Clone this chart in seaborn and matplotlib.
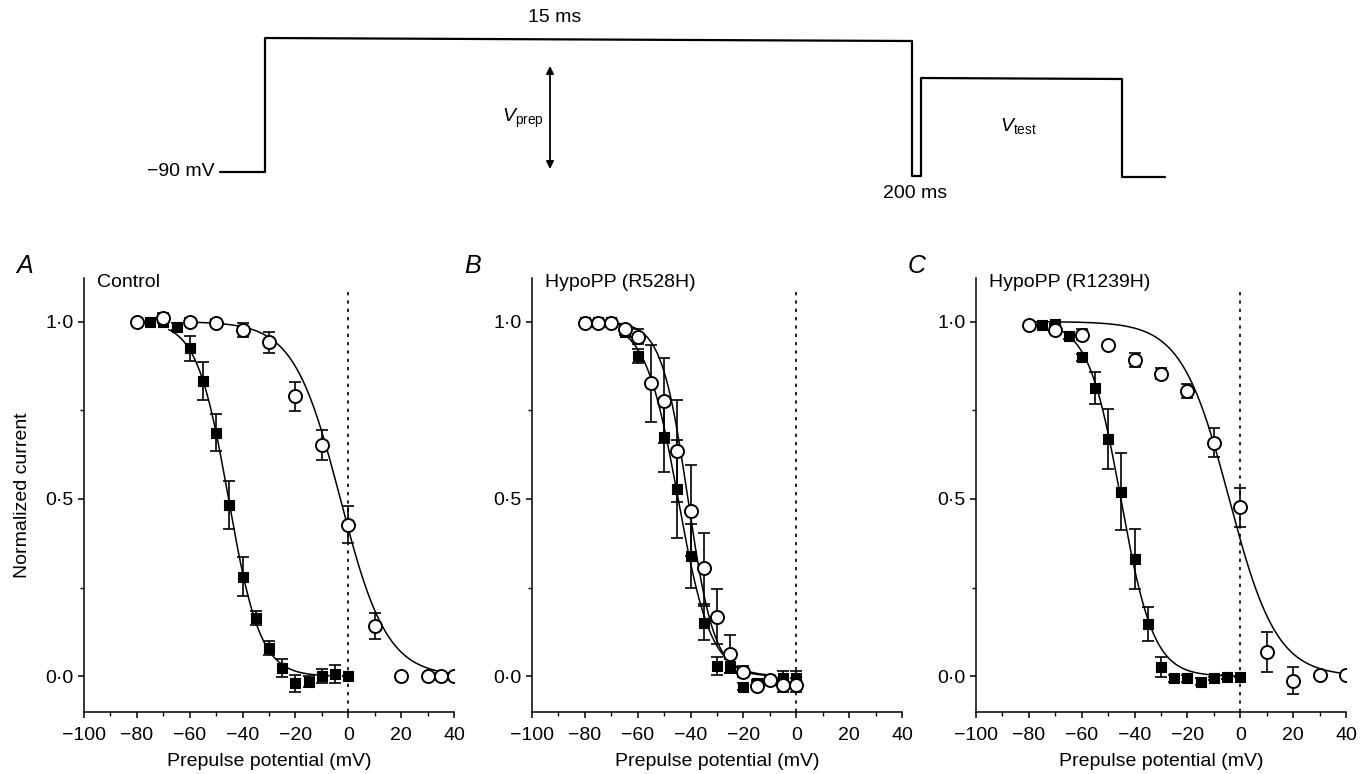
import numpy as np
import pandas as pd
import matplotlib
matplotlib.use("Agg")
import matplotlib.pyplot as plt
from matplotlib.ticker import FuncFormatter, MultipleLocator
import seaborn as sns

# ---------------- data ----------------
# Panel A: control
a_sq_v = [-75, -70, -65, -60, -55, -50, -45, -40, -35, -30, -25, -20, -15, -10, -5, 0]
a_sq_i = [1.0, 1.0, 0.985, 0.925, 0.833, 0.687, 0.483, 0.281, 0.164, 0.079, 0.024, -0.02, -0.015, 0.0, 0.006, 0.0]
a_sq_e = [0, 0, 0.01, 0.035, 0.053, 0.053, 0.068, 0.056, 0.02, 0.02, 0.025, 0.025, 0.015, 0.02, 0.025, 0.0]
a_ci_v = [-80, -70, -60, -50, -40, -30, -20, -10, 0, 10, 20, 30, 35, 40]
a_ci_i = [1.0, 1.01, 1.0, 0.997, 0.977, 0.942, 0.789, 0.652, 0.427, 0.142, 0.0, 0.0, 0.0, 0.0]
a_ci_e = [0, 0.015, 0.01, 0.01, 0.02, 0.03, 0.04, 0.042, 0.052, 0.037, 0.01, 0, 0, 0]

# Panel B: HypoPP R528H
b_sq_v = [-80, -75, -70, -65, -60, -50, -45, -40, -35, -30, -25, -20, -15, -10, -5, 0]
b_sq_i = [1.0, 1.0, 1.0, 0.972, 0.903, 0.676, 0.527, 0.339, 0.15, 0.029, 0.029, -0.029, -0.02, -0.01, -0.004, -0.004]
b_sq_e = [0, 0, 0, 0.01, 0.02, 0.099, 0.138, 0.09, 0.048, 0.025, 0.02, 0.01, 0.01, 0.01, 0.02, 0.02]
b_ci_v = [-80, -75, -70, -65, -60, -55, -50, -45, -40, -35, -30, -25, -20, -15, -10, -5, 0]
b_ci_i = [0.997, 0.995, 0.995, 0.98, 0.958, 0.826, 0.777, 0.636, 0.467, 0.305, 0.168, 0.063, 0.013, -0.027, -0.01, -0.025, -0.025]
b_ci_e = [0, 0, 0, 0.01, 0.02, 0.108, 0.12, 0.144, 0.129, 0.1, 0.077, 0.054, 0.015, 0.01, 0.01, 0.02, 0.02]

# Panel C: HypoPP R1239H
c_sq_v = [-75, -70, -65, -60, -55, -50, -45, -40, -35, -30, -25, -20, -15, -10, -5, 0]
c_sq_i = [0.99, 0.993, 0.96, 0.9, 0.812, 0.669, 0.521, 0.33, 0.148, 0.027, -0.006, -0.006, -0.015, -0.006, -0.002, -0.002]
c_sq_e = [0, 0, 0.01, 0.01, 0.045, 0.085, 0.108, 0.085, 0.048, 0.028, 0.01, 0.01, 0.01, 0.005, 0.005, 0]
c_ci_v = [-80, -70, -60, -50, -40, -30, -20, -10, 0, 10, 20, 30, 40]
c_ci_i = [0.99, 0.977, 0.963, 0.933, 0.892, 0.853, 0.805, 0.659, 0.476, 0.069, -0.012, 0.004, 0.004]
c_ci_e = [0, 0.01, 0.015, 0.01, 0.02, 0.015, 0.02, 0.04, 0.055, 0.057, 0.038, 0, 0]

# Boltzmann fits: (V1/2, slope k, v_start, v_end)
a_sq_fit = (-45.3, 6.0, -68, -3)
a_ci_fit = (-3.0, 8.8, -62, 40)
b_sq_fit = (-44.7, 6.2, -67, -8)
b_ci_fit = (-41.0, 5.0, -67, -8)
c_sq_fit = (-45.2, 6.2, -66, -2)
c_ci_fit = (-4.2, 9.0, -80, 40)

panel_letters = ["A", "B", "C"]
panel_titles = ["Control", "HypoPP (R528H)", "HypoPP (R1239H)"]
x_ticks = [-100, -80, -60, -40, -20, 0, 20, 40]
y_ticks = [0.0, 0.5, 1.0]

# pulse protocol (figure pixel coordinates of the schematic)
proto_t = [220, 265, 265, 912, 912, 921, 921, 1122, 1122, 1165]
proto_v = [172, 172, 38, 41, 176, 176, 78, 79, 177, 177]

# ---------------- style ----------------
sns.set_theme(style="ticks")
plt.rcParams["font.family"] = ["Liberation Sans", "DejaVu Sans"]
plt.rcParams.update({
    "mathtext.fontset": "custom",
    "mathtext.rm": "Liberation Sans",
    "mathtext.it": "Liberation Sans:italic",
    "text.color": "black",
    "axes.labelcolor": "black",
    "axes.linewidth": 1.1,
    "xtick.major.width": 1.1,
    "ytick.major.width": 1.1,
    "xtick.minor.width": 1.0,
    "ytick.minor.width": 1.0,
    "xtick.major.size": 4.5,
    "ytick.major.size": 4.5,
    "xtick.minor.size": 3,
    "ytick.minor.size": 3,
    "xtick.direction": "out",
    "ytick.direction": "out",
    "xtick.color": "black",
    "ytick.color": "black",
    "xtick.labelcolor": "black",
    "ytick.labelcolor": "black",
    "axes.edgecolor": "black",
})
FS = 14

fig = plt.figure(figsize=(13.67, 7.74), dpi=100)

# ---------------- protocol schematic ----------------
ax0 = fig.add_axes([0, 0, 1, 1], zorder=-1)
ax0.set_xlim(0, 1367)
ax0.set_ylim(774, 0)
ax0.axis("off")
ax0.plot(proto_t, proto_v, color="black", lw=1.6)
ax0.text(215, 172, "\u221290 mV", ha="right", va="center", fontsize=FS)
ax0.text(555, 18, "15 ms", ha="center", va="center", fontsize=FS)
ax0.text(915, 193, "200 ms", ha="center", va="center", fontsize=FS)
ax0.text(544, 118, r"$V_{\rm prep}$", ha="right", va="center", fontsize=FS)
ax0.text(1018, 126, r"$V_{\rm test}$", ha="center", va="center", fontsize=FS)
ax0.annotate("", xy=(550, 66), xytext=(550, 169),
             arrowprops=dict(arrowstyle="<|-|>", color="black", lw=1.3,
                             mutation_scale=11, shrinkA=0, shrinkB=0))

# ---------------- panels ----------------
panels = [
    (a_sq_v, a_sq_i, a_sq_e, a_ci_v, a_ci_i, a_ci_e, a_sq_fit, a_ci_fit),
    (b_sq_v, b_sq_i, b_sq_e, b_ci_v, b_ci_i, b_ci_e, b_sq_fit, b_ci_fit),
    (c_sq_v, c_sq_i, c_sq_e, c_ci_v, c_ci_i, c_ci_e, c_sq_fit, c_ci_fit),
]
lefts = [84, 532, 976]
W, H = 1367, 774
ax_w, top_px, bot_px = 370, 278, 712


def boltzmann(params):
    vh, k, v0, v1 = params
    v = np.linspace(v0, v1, 300)
    return v, 1.0 / (1.0 + np.exp((v - vh) / k))


dot_fmt = FuncFormatter(lambda val, pos: f"{val:.1f}".replace(".", "\u00b7"))

for i, (sv, si, se, cv, ci, ce, sfit, cfit) in enumerate(panels):
    ax = fig.add_axes([lefts[i] / W, 1 - bot_px / H, ax_w / W, (bot_px - top_px) / H])
    ax.set_facecolor("none")

    for fit in (sfit, cfit):
        fv, fi = boltzmann(fit)
        sns.lineplot(x=fv, y=fi, ax=ax, color="black", lw=1.1, sort=False,
                     estimator=None, zorder=2)

    ax.errorbar(sv, si, yerr=se, fmt="none", ecolor="black", elinewidth=1.2,
                capsize=4.5, capthick=1.2, zorder=3)
    ax.errorbar(cv, ci, yerr=ce, fmt="none", ecolor="black", elinewidth=1.2,
                capsize=4.5, capthick=1.2, zorder=3)

    sq = pd.DataFrame({"v": sv, "i": si})
    cc = pd.DataFrame({"v": cv, "i": ci})
    sns.scatterplot(data=sq, x="v", y="i", ax=ax, marker="s", s=62,
                    color="black", edgecolor="black", linewidth=0.8, zorder=4)
    sns.scatterplot(data=cc, x="v", y="i", ax=ax, marker="o", s=88,
                    facecolor="white", edgecolor="black", linewidth=1.4, zorder=5)

    ax.axvline(0, ymin=0, ymax=(bot_px - 287) / (bot_px - top_px), color="black",
               lw=1.2, ls=(0, (2, 3)), zorder=1)

    ax.set_xlim(-100, 40)
    ax.set_ylim(-0.1007, 1.123)
    ax.set_xticks(x_ticks)
    ax.set_yticks(y_ticks)
    ax.xaxis.set_minor_locator(MultipleLocator(10))
    ax.yaxis.set_minor_locator(MultipleLocator(0.25))
    ax.yaxis.set_major_formatter(dot_fmt)
    ax.tick_params(labelsize=FS, pad=3)
    ax.tick_params(axis="x", pad=6)
    sns.despine(ax=ax)

    ax.set_xlabel("Prepulse potential (mV)", fontsize=FS, labelpad=7)
    if i == 0:
        ax.set_ylabel("Normalized current", fontsize=FS)
        ax.yaxis.set_label_coords(-0.143, 0.5)
    else:
        ax.set_ylabel("")

    ax.text(13 / ax_w, (bot_px - 282) / (bot_px - top_px), panel_titles[i],
            transform=ax.transAxes, ha="left", va="center", fontsize=FS)
    ax.text(-59 / ax_w, (bot_px - 266) / (bot_px - top_px), panel_letters[i],
            transform=ax.transAxes, ha="center", va="center", fontsize=18,
            fontstyle="italic")

fig.savefig("out.png", dpi=100, facecolor="white")
